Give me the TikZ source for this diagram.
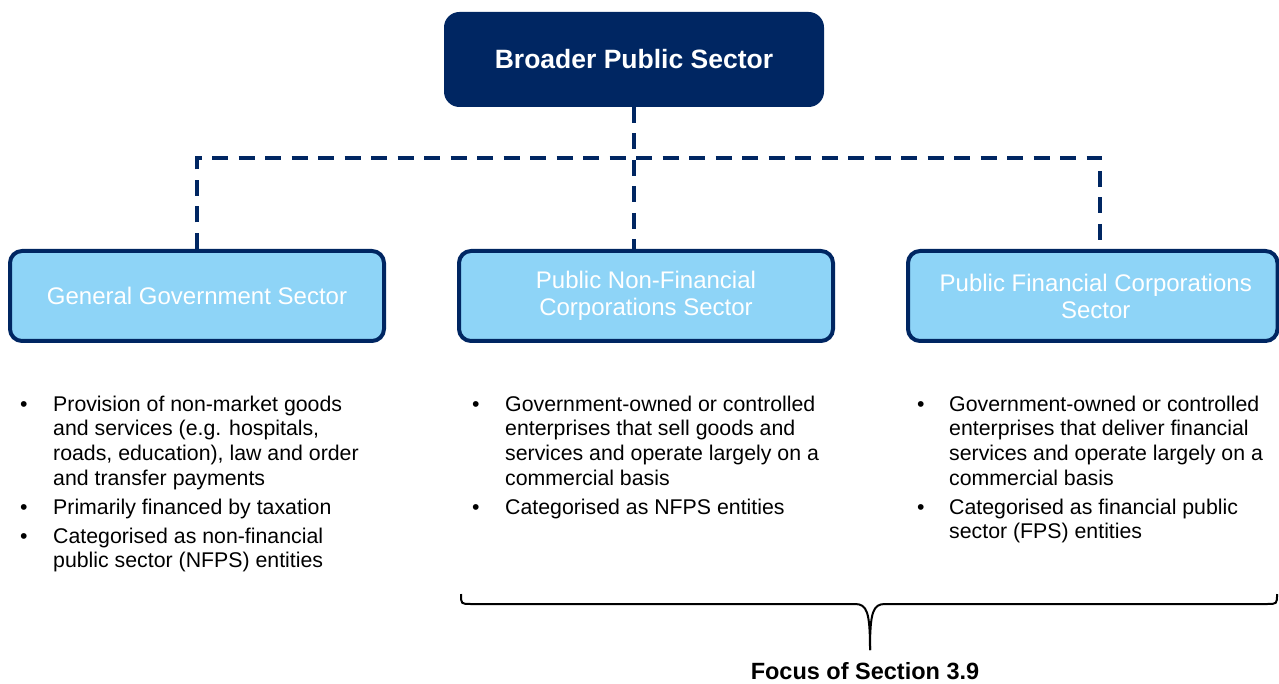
\documentclass[tikz,border=0pt]{standalone}
\usepackage{fontspec}
\setmainfont{Liberation Sans}
\definecolor{navy}{RGB}{0,38,98}
\definecolor{skyfill}{RGB}{142,212,247}
\tikzset{
  topbox/.style={fill=navy, draw=navy, line width=1pt, rounded corners=15pt,
    minimum width=379pt, minimum height=94pt, inner sep=0pt, text=white,
    font=\fontsize{26.5}{30}\selectfont\bfseries},
  secbox/.style={fill=skyfill, draw=navy, line width=4pt, rounded corners=12pt,
    minimum height=90pt, inner sep=0pt, text=white, align=center,
    font=\fontsize{24}{27}\selectfont},
  conn/.style={draw=navy, line width=4pt, dash pattern=on 16pt off 10.5pt},
  bul/.style={anchor=base west, inner sep=0pt, font=\fontsize{21.3}{24.7}\selectfont},
  btxt/.style={anchor=base west, inner sep=0pt, align=left, font=\fontsize{21.3}{24.7}\selectfont},
  bracepath/.style={draw=black, line width=2pt},
}
\begin{document}
\begin{tikzpicture}[x=1pt,y=-1pt]
\useasboundingbox (0,0) rectangle (1279,684);
% top box
\node[topbox] (bps) at (634,59.5) {Broader Public Sector};
% sector boxes
\node[secbox, minimum width=374pt] (ggs) at (197,296) {General Government Sector};
\node[secbox, minimum width=374pt] (pnfc) at (646,296) {Public Non-Financial\\Corporations Sector};
\node[secbox, minimum width=369.5pt] (pfc) at (1092.75,296) {\hspace*{6pt}Public Financial Corporations\\\hspace*{6pt}Sector};
% connectors
\coordinate (jl) at (197,158);
\coordinate (jr) at (1100,158);
\draw[conn] (bps.south) -- (bps.south |- pnfc.north);
\draw[conn] (ggs.north) -- (jl) -- (jr) -- (jr |- pfc.north);
% left bullets (node base = baseline of last line)
\node[bul] (l1b) at (20,411) {•};
\node[btxt] (l1) at (53,485.1) {Provision of non-market goods\\and services (e.g. hospitals,\\roads, education), law and order\\and transfer payments};
\node[bul] (l2b) at (20,514) {•};
\node[btxt] (l2) at (53,514) {Primarily financed by taxation};
\node[bul] (l3b) at (20,543) {•};
\node[btxt] (l3) at (53,567.7) {Categorised as non-financial\\public sector (NFPS) entities};
% middle bullets
\node[bul] (m1b) at (472,411) {•};
\node[btxt] (m1) at (505,485.1) {Government-owned or controlled\\enterprises that sell goods and\\services and operate largely on a\\commercial basis};
\node[bul] (m2b) at (472,514) {•};
\node[btxt] (m2) at (505,514) {Categorised as NFPS entities};
% right bullets
\node[bul] (r1b) at (917,411) {•};
\node[btxt] (r1) at (949,485.1) {Government-owned or controlled\\enterprises that deliver financial\\services and operate largely on a\\commercial basis};
\node[bul] (r2b) at (917,514) {•};
\node[btxt] (r2) at (949,538.7) {Categorised as financial public\\sector (FPS) entities};
% brace
\coordinate (bl) at (461,594);
\coordinate (br) at (1277,594);
\coordinate (bt) at (870,650);
\draw[bracepath] (bl) .. controls (461,604) .. (471,604) -- (855,604)
  .. controls (867,604) and (870,612) .. (bt);
\draw[bracepath] (br) .. controls (1277,604) .. (1267,604) -- (885,604)
  .. controls (873,604) and (870,612) .. (bt);
\node[inner sep=0pt, font=\fontsize{23.5}{27}\selectfont\bfseries] (focus) at (865,671) {Focus of Section 3.9};
\end{tikzpicture}
\end{document}
